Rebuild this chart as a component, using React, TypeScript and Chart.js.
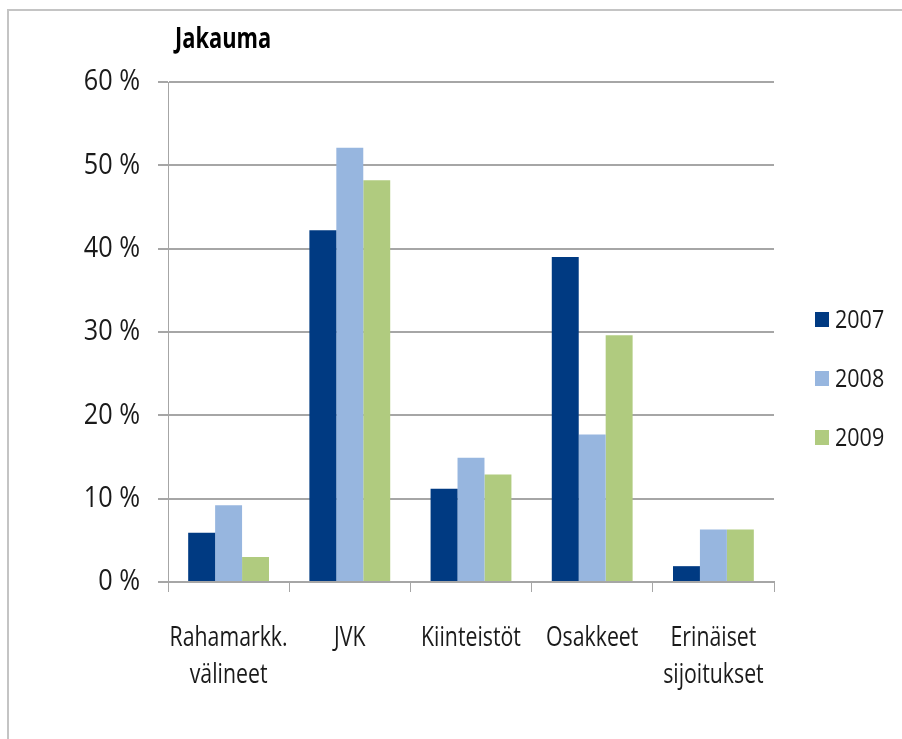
import React, { useEffect, useRef } from "react";
import { Chart, registerables } from "chart.js";

Chart.register(...registerables);

const categories: (string | string[])[] = [
  ["Rahamarkk.", "välineet"],
  "JVK",
  "Kiinteistöt",
  "Osakkeet",
  ["Erinäiset", "sijoitukset"],
];
const seriesNames = ["2007", "2008", "2009"];
const values2007 = [5.9, 42.2, 11.2, 39.0, 1.9];
const values2008 = [9.2, 52.1, 14.9, 17.7, 6.3];
const values2009 = [3.0, 48.2, 12.9, 29.6, 6.3];
const seriesColors = ["#003A82", "#97B6DF", "#B0CB7F"];
const yTicks = { min: 0, max: 60, step: 10 };
const title = "Jakauma";

const FONT = "'Open Sans', 'DejaVu Sans', sans-serif";
const TEXT = "#1a1a1a";
const X_SX = 0.76;
const Y_SX = 0.87;

// draws the library's own tick labels slightly condensed (narrow-font look)
const squeezePlugin = {
  id: "squeeze",
  beforeDraw(chart: any) {
    const ctx = chart.ctx as any;
    if (ctx.__squeezed) return;
    const orig = ctx.fillText.bind(ctx);
    ctx.fillText = (text: string, x: number, y: number, maxWidth?: number) => {
      const sx = ctx.textAlign === "right" ? Y_SX : ctx.textAlign === "center" ? X_SX : 1;
      if (sx === 1) {
        if (maxWidth === undefined) orig(text, x, y);
        else orig(text, x, y, maxWidth);
        return;
      }
      ctx.save();
      ctx.translate(x, y);
      ctx.scale(sx, 1);
      orig(text, 0, 0);
      ctx.restore();
    };
    ctx.__squeezed = true;
  },
};

export default function App() {
  const canvasRef = useRef<HTMLCanvasElement | null>(null);

  useEffect(() => {
    const ctx = canvasRef.current;
    if (!ctx) return;
    const series = [values2007, values2008, values2009];
    const chart = new Chart(ctx, {
      type: "bar",
      data: {
        labels: categories,
        datasets: series.map((vals, i) => ({
          label: seriesNames[i],
          data: vals,
          backgroundColor: seriesColors[i],
          borderWidth: 0,
          categoryPercentage: 0.667,
          barPercentage: 1,
        })),
      },
      plugins: [squeezePlugin],
      options: {
        animation: false,
        responsive: false,
        maintainAspectRatio: false,
        layout: { padding: { top: 82, left: 0, right: 128, bottom: 0 } },
        plugins: {
          legend: { display: false },
          title: { display: false },
          tooltip: { enabled: false },
        },
        scales: {
          x: {
            offset: true,
            grid: {
              drawOnChartArea: false,
              drawTicks: true,
              tickLength: 10,
              color: "#a6a6a6",
              lineWidth: 1,
            },
            border: { display: true, color: "#a6a6a6", width: 2 },
            ticks: {
              color: TEXT,
              font: { family: FONT, size: 28, lineHeight: 1.32 },
              padding: 28,
              maxRotation: 0,
              minRotation: 0,
              autoSkip: false,
            },
            afterFit: (scale: any) => {
              scale.height = 157;
            },
          },
          y: {
            min: yTicks.min,
            max: yTicks.max,
            grid: {
              color: "#a6a6a6",
              lineWidth: 2,
              tickLength: 10,
              drawTicks: true,
            },
            border: { display: true, color: "#a6a6a6", width: 1 },
            ticks: {
              stepSize: yTicks.step,
              color: TEXT,
              font: { family: FONT, size: 29 },
              padding: 18,
              callback: (v: any) => v + " %",
            },
            afterFit: (scale: any) => {
              scale.width = 168;
            },
          },
        },
      },
    });
    return () => chart.destroy();
  }, []);

  const legendCenters = [319, 378, 437];

  return (
    <div
      style={{
        position: "absolute",
        left: 0,
        top: 0,
        width: 902,
        height: 739,
        background: "#fff",
        overflow: "hidden",
        fontFamily: FONT,
      }}
    >
      <div
        style={{
          position: "absolute",
          left: 7,
          top: 9,
          width: 1000,
          height: 1000,
          borderTop: "2px solid #c4c4c4",
          borderLeft: "2px solid #c4c4c4",
        }}
      />
      <canvas
        ref={canvasRef}
        width={902}
        height={739}
        style={{ position: "absolute", left: 0, top: 0 }}
      />
      <div
        style={{
          position: "absolute",
          left: 175,
          top: 23,
          fontSize: 28,
          lineHeight: "28px",
          fontWeight: "bold",
          color: "#000",
          whiteSpace: "nowrap",
          transform: "scaleX(0.78)",
          transformOrigin: "left center",
        }}
      >
        {title}
      </div>
      {seriesNames.map((name, i) => (
        <React.Fragment key={name}>
          <div
            style={{
              position: "absolute",
              left: 815,
              top: legendCenters[i] - 7,
              width: 14,
              height: 15,
              background: seriesColors[i],
            }}
          />
          <div
            style={{
              position: "absolute",
              left: 835,
              top: legendCenters[i] - 14,
              fontSize: 25,
              lineHeight: "26px",
              color: TEXT,
              whiteSpace: "nowrap",
              transform: "scaleX(0.86)",
              transformOrigin: "left center",
            }}
          >
            {name}
          </div>
        </React.Fragment>
      ))}
    </div>
  );
}
